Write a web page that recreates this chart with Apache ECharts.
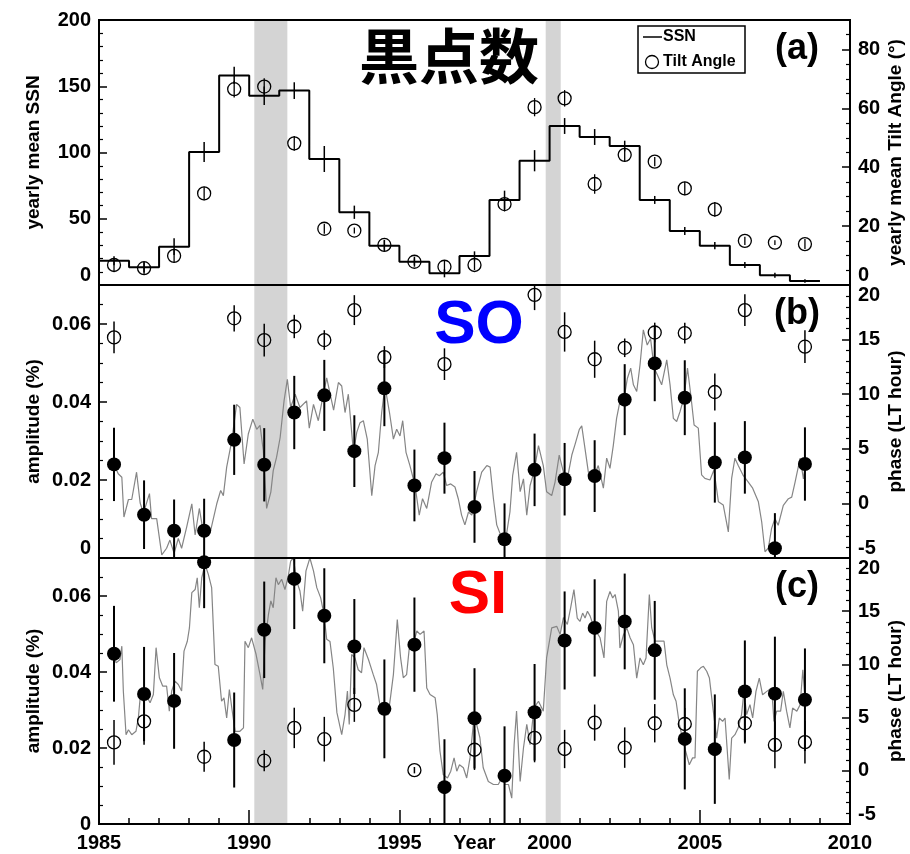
<!DOCTYPE html>
<html>
<head>
<meta charset="utf-8">
<script src="https://cdn.jsdelivr.net/npm/echarts@6.0.0/dist/echarts.min.js"></script>
<style>
  html, body { margin: 0; padding: 0; background: #fff; }
  #chart { width: 910px; height: 854px; }
</style>
</head>
<body>
<div id="chart"></div>
<script>
// yearly points sit at the middle of each year
var years = [1985, 1986, 1987, 1988, 1989, 1990, 1991, 1992, 1993, 1994, 1995, 1996,
  1997, 1998, 1999, 2000, 2001, 2002, 2003, 2004, 2005, 2006, 2007, 2008];

// (a) sunspot number and tilt angle
var ssn = [18.3, 13.4, 28.9, 100.4, 158.2, 142.9, 146.7, 95.1, 54.9, 29.7, 17.6, 8.8,
  21.9, 64.2, 93.8, 120.0, 111.7, 104.9, 64.2, 40.8, 29.7, 15.1, 7.3, 3.0];
var ssnErr = [3.4, 4.0, 6.3, 7.5, 6.5, 7.0, 6.3, 9.8, 5.0, 4.4, 3.8, 3.0,
  3.5, 7.0, 8.0, 6.0, 6.0, 4.0, 3.0, 3.0, 2.8, 2.3, 1.9, 1.3];
var tilt = [6.8, 5.7, 9.9, 31.1, 66.5, 67.4, 48.1, 19.1, 18.5, 13.6, 7.9, 6.2,
  6.8, 27.5, 60.4, 63.4, 34.3, 44.2, 41.9, 32.8, 25.7, 15.0, 14.4, 13.9];
var tiltErr = [2.3, 2.0, 2.3, 2.3, 2.8, 2.8, 2.5, 1.7, 1.0, 1.6, 1.1, 2.1,
  1.7, 2.5, 3.1, 2.8, 3.3, 2.3, 1.6, 2.3, 2.5, 1.4, 0.8, 1.7];

// (b) SO
var soAmp = [0.0240, 0.0111, 0.0070, 0.0070, 0.0303, 0.0239, 0.0373, 0.0417, 0.0274, 0.0435, 0.0186, 0.0256,
  0.0131, 0.0048, 0.0226, 0.0202, 0.0210, 0.0406, 0.0499, 0.0411, 0.0245, 0.0258, 0.0025, 0.0241];
var soAmpErr = [0.0094, 0.0088, 0.0080, 0.0082, 0.0090, 0.0094, 0.0094, 0.0091, 0.0092, 0.0097, 0.0092, 0.0091,
  0.0092, 0.0092, 0.0093, 0.0093, 0.0092, 0.0091, 0.0097, 0.0096, 0.0103, 0.0093, 0.0090, 0.0094];
var soPhase = [15.2, null, null, null, 16.95, 14.96, 16.2, 14.96, 17.7, 13.4, null, 12.75,
  null, null, 19.1, 15.7, 13.2, 14.25, 15.65, 15.6, 10.2, 17.7, null, 14.35];
var soPhaseErr = [1.45, null, null, null, 1.2, 1.5, 1.07, 0.9, 1.37, 1.0, null, 1.45,
  null, null, 1.4, 1.8, 1.7, 0.85, 0.9, 0.95, 1.7, 1.45, null, 1.5];

// (c) SI
var siAmp = [0.0448, 0.0342, 0.0324, 0.0689, 0.0221, 0.0511, 0.0645, 0.0548, 0.0467, 0.0303, 0.0472, 0.0097,
  0.0278, 0.0127, 0.0294, 0.0483, 0.0516, 0.0533, 0.0457, 0.0224, 0.0197, 0.0349, 0.0343, 0.0327];
var siAmpErr = [0.0126, 0.0124, 0.0126, 0.0121, 0.0125, 0.0127, 0.0132, 0.0125, 0.0125, 0.0130, 0.0124, 0.0126,
  0.0132, 0.0130, 0.0127, 0.0129, 0.0128, 0.0126, 0.0130, 0.0133, 0.0144, 0.0134, 0.0150, 0.0135];
var siPhase = [2.67, 4.65, null, 1.32, null, 0.95, 4.03, 2.97, 6.2, null, 0.06, null,
  1.98, null, 3.1, 2.05, 4.53, 2.18, 4.47, 4.4, null, 4.47, 2.43, 2.69];
var siPhaseErr = [2.1, 2.2, null, 1.4, null, 1.0, 1.9, 2.1, 1.6, null, 0.3, null,
  1.9, null, 2.3, 1.8, 1.7, 1.9, 1.8, 1.5, null, 1.9, 2.2, 2.0];

// running amplitude curves [year, amplitude]
var soLine = [
  [1985.50,0.0240],[1985.64,0.0216],[1985.76,0.0207],[1985.83,0.0105],[1985.98,0.0150],[1986.09,0.0150],
  [1986.25,0.0220],[1986.37,0.0141],[1986.48,0.0115],[1986.68,0.0165],[1986.75,0.0101],[1986.92,0.0101],
  [1987.09,0.0008],[1987.25,0.0025],[1987.36,0.0046],[1987.50,0.0012],[1987.64,0.0050],[1987.75,0.0025],
  [1987.92,0.0080],[1988.09,0.0139],[1988.20,0.0059],[1988.34,0.0127],[1988.47,0.0067],[1988.70,0.0065],
  [1988.92,0.0139],[1989.05,0.0173],[1989.14,0.0160],[1989.25,0.0233],[1989.42,0.0301],[1989.58,0.0394],
  [1989.69,0.0386],[1989.83,0.0241],[1989.97,0.0318],[1990.12,0.0356],[1990.25,0.0330],[1990.36,0.0340],
  [1990.47,0.0275],[1990.58,0.0127],[1990.72,0.0169],[1990.80,0.0224],[1990.91,0.0258],[1991.03,0.0309],
  [1991.16,0.0403],[1991.27,0.0458],[1991.38,0.0386],[1991.53,0.0420],[1991.69,0.0386],[1991.91,0.0403],
  [1992.00,0.0333],[1992.14,0.0394],[1992.30,0.0352],[1992.47,0.0420],[1992.58,0.0462],[1992.69,0.0422],
  [1992.81,0.0379],[1992.97,0.0450],[1993.08,0.0441],[1993.19,0.0373],[1993.30,0.0420],[1993.47,0.0271],
  [1993.58,0.0322],[1993.69,0.0347],[1993.80,0.0352],[1993.93,0.0305],[1994.08,0.0160],[1994.19,0.0237],
  [1994.30,0.0271],[1994.41,0.0373],[1994.52,0.0441],[1994.67,0.0373],[1994.80,0.0305],[1994.91,0.0330],
  [1995.02,0.0313],[1995.11,0.0352],[1995.22,0.0271],[1995.35,0.0237],[1995.52,0.0186],[1995.66,0.0110],
  [1995.77,0.0152],[1995.91,0.0127],[1996.07,0.0194],[1996.22,0.0216],[1996.33,0.0211],[1996.46,0.0220],
  [1996.57,0.0186],[1996.71,0.0190],[1996.85,0.0182],[1996.96,0.0152],[1997.07,0.0110],[1997.18,0.0085],
  [1997.30,0.0118],[1997.41,0.0110],[1997.57,0.0170],[1997.74,0.0220],[1997.91,0.0237],[1998.02,0.0233],
  [1998.13,0.0152],[1998.24,0.0085],[1998.35,0.0063],[1998.46,0.0050],[1998.57,0.0063],[1998.68,0.0118],
  [1998.77,0.0211],[1998.90,0.0271],[1999.02,0.0170],[1999.13,0.0203],[1999.24,0.0110],[1999.35,0.0186],
  [1999.48,0.0220],[1999.63,0.0288],[1999.79,0.0237],[1999.90,0.0170],[2000.07,0.0160],[2000.18,0.0194],
  [2000.32,0.0264],[2000.46,0.0220],[2000.59,0.0203],[2000.74,0.0264],[2000.85,0.0292],[2000.99,0.0330],
  [2001.07,0.0339],[2001.18,0.0280],[2001.29,0.0220],[2001.48,0.0211],[2001.62,0.0237],[2001.79,0.0179],
  [2001.90,0.0256],[2002.01,0.0230],[2002.12,0.0288],[2002.23,0.0358],[2002.34,0.0401],[2002.48,0.0410],
  [2002.59,0.0461],[2002.70,0.0487],[2002.79,0.0444],[2002.90,0.0427],[2003.01,0.0495],[2003.12,0.0585],
  [2003.25,0.0546],[2003.36,0.0563],[2003.48,0.0487],[2003.59,0.0469],[2003.73,0.0444],[2003.90,0.0508],
  [2004.01,0.0444],[2004.12,0.0358],[2004.23,0.0350],[2004.34,0.0375],[2004.47,0.0410],[2004.59,0.0487],
  [2004.70,0.0418],[2004.81,0.0341],[2004.95,0.0333],[2005.06,0.0213],[2005.17,0.0204],[2005.34,0.0200],
  [2005.47,0.0226],[2005.62,0.0144],[2005.78,0.0136],[2005.95,0.0067],[2006.06,0.0204],[2006.17,0.0256],
  [2006.28,0.0237],[2006.45,0.0211],[2006.62,0.0194],[2006.76,0.0179],[2006.95,0.0144],[2007.06,0.0093],
  [2007.17,0.0016],[2007.28,0.0025],[2007.39,0.0076],[2007.50,0.0101],[2007.61,0.0084],[2007.78,0.0135],
  [2007.95,0.0152],[2008.06,0.0156],[2008.17,0.0194],[2008.34,0.0256],[2008.45,0.0203],[2008.51,0.0237]
];
var siLine = [
  [1985.50,0.0446],[1985.57,0.0424],[1985.70,0.0433],[1985.76,0.0468],[1985.81,0.0350],[1985.90,0.0235],
  [1985.98,0.0248],[1986.09,0.0235],[1986.23,0.0244],[1986.31,0.0279],[1986.37,0.0332],[1986.48,0.0323],
  [1986.59,0.0336],[1986.70,0.0319],[1986.81,0.0341],[1986.90,0.0464],[1987.01,0.0385],[1987.12,0.0363],
  [1987.25,0.0363],[1987.34,0.0297],[1987.42,0.0350],[1987.53,0.0376],[1987.64,0.0367],[1987.75,0.0350],
  [1987.83,0.0455],[1987.94,0.0481],[1988.01,0.0516],[1988.09,0.0609],[1988.20,0.0617],[1988.27,0.0648],
  [1988.34,0.0569],[1988.42,0.0648],[1988.53,0.0683],[1988.64,0.0657],[1988.75,0.0622],[1988.86,0.0420],
  [1988.97,0.0415],[1989.08,0.0323],[1989.16,0.0332],[1989.25,0.0279],[1989.34,0.0354],[1989.42,0.0306],
  [1989.53,0.0244],[1989.69,0.0244],[1989.81,0.0253],[1989.86,0.0481],[1989.97,0.0464],[1990.08,0.0490],
  [1990.23,0.0446],[1990.36,0.0393],[1990.45,0.0354],[1990.53,0.0481],[1990.64,0.0551],[1990.72,0.0587],
  [1990.80,0.0569],[1990.89,0.0648],[1990.97,0.0630],[1991.08,0.0644],[1991.19,0.0617],[1991.30,0.0652],
  [1991.38,0.0692],[1991.47,0.0700],[1991.58,0.0639],[1991.69,0.0613],[1991.78,0.0560],[1991.89,0.0666],
  [1992.02,0.0700],[1992.14,0.0666],[1992.25,0.0622],[1992.38,0.0595],[1992.49,0.0551],[1992.58,0.0486],
  [1992.69,0.0480],[1992.80,0.0410],[1992.92,0.0293],[1993.08,0.0235],[1993.19,0.0288],[1993.27,0.0350],
  [1993.33,0.0262],[1993.41,0.0446],[1993.52,0.0437],[1993.63,0.0406],[1993.74,0.0398],[1993.82,0.0464],
  [1993.97,0.0433],[1994.13,0.0393],[1994.24,0.0367],[1994.35,0.0314],[1994.49,0.0288],[1994.63,0.0288],
  [1994.80,0.0393],[1994.93,0.0538],[1995.04,0.0437],[1995.13,0.0385],[1995.24,0.0393],[1995.33,0.0464],
  [1995.46,0.0472],[1995.58,0.0508],[1995.69,0.0499],[1995.82,0.0508],[1995.91,0.0358],[1996.02,0.0341],
  [1996.19,0.0332],[1996.26,0.0288],[1996.35,0.0192],[1996.46,0.0130],[1996.60,0.0121],[1996.71,0.0139],
  [1996.82,0.0174],[1996.91,0.0139],[1997.00,0.0156],[1997.13,0.0148],[1997.24,0.0121],[1997.35,0.0174],
  [1997.46,0.0262],[1997.57,0.0262],[1997.68,0.0227],[1997.79,0.0148],[1997.96,0.0112],[1998.13,0.0104],
  [1998.29,0.0104],[1998.41,0.0121],[1998.52,0.0104],[1998.63,0.0104],[1998.74,0.0068],[1998.82,0.0209],
  [1998.90,0.0297],[1999.02,0.0112],[1999.13,0.0200],[1999.24,0.0262],[1999.35,0.0209],[1999.48,0.0306],
  [1999.63,0.0323],[1999.79,0.0297],[1999.90,0.0437],[2000.07,0.0516],[2000.24,0.0520],[2000.35,0.0499],
  [2000.46,0.0543],[2000.59,0.0525],[2000.70,0.0569],[2000.81,0.0617],[2000.92,0.0542],[2001.01,0.0533],
  [2001.10,0.0555],[2001.18,0.0542],[2001.26,0.0560],[2001.35,0.0547],[2001.48,0.0516],[2001.68,0.0490],
  [2001.81,0.0437],[2001.90,0.0586],[2002.01,0.0612],[2002.10,0.0595],[2002.18,0.0604],[2002.29,0.0560],
  [2002.34,0.0463],[2002.46,0.0498],[2002.57,0.0516],[2002.68,0.0490],[2002.79,0.0472],[2002.90,0.0384],
  [2003.01,0.0437],[2003.12,0.0419],[2003.21,0.0437],[2003.32,0.0604],[2003.40,0.0516],[2003.51,0.0481],
  [2003.65,0.0481],[2003.81,0.0481],[2003.90,0.0419],[2004.01,0.0384],[2004.12,0.0340],[2004.21,0.0323],
  [2004.32,0.0262],[2004.47,0.0209],[2004.65,0.0156],[2004.76,0.0174],[2004.84,0.0174],[2004.92,0.0402],
  [2005.03,0.0411],[2005.12,0.0415],[2005.23,0.0402],[2005.32,0.0384],[2005.45,0.0297],[2005.56,0.0226],
  [2005.65,0.0279],[2005.76,0.0270],[2005.84,0.0279],[2005.98,0.0117],[2006.06,0.0226],[2006.17,0.0235],
  [2006.28,0.0253],[2006.39,0.0288],[2006.47,0.0349],[2006.56,0.0288],[2006.67,0.0314],[2006.76,0.0279],
  [2006.87,0.0349],[2006.98,0.0384],[2007.09,0.0340],[2007.23,0.0349],[2007.39,0.0358],[2007.47,0.0270],
  [2007.56,0.0297],[2007.69,0.0297],[2007.78,0.0349],[2007.89,0.0297],[2008.00,0.0253],[2008.09,0.0305],
  [2008.23,0.0297],[2008.34,0.0314],[2008.43,0.0406],[2008.50,0.0332]
];

// shaded periods (years)
var bands = [[1990.17, 1991.27], [1999.87, 2000.37]];

var FONT = "'Liberation Sans', Arial, sans-serif";

function points(vals, errs) {
  var out = [];
  for (var i = 0; i < years.length; i++) {
    if (vals[i] === null) continue;
    out.push([years[i] + 0.5, vals[i], errs ? errs[i] : 0]);
  }
  return out;
}

// vertical error bar, cut at the panel edges
function barRender(width) {
  return function (params, api) {
    var x = api.value(0), v = api.value(1), e = api.value(2);
    var hi = api.coord([x, v + e]);
    var lo = api.coord([x, v - e]);
    var cs = params.coordSys;
    return {
      type: 'line',
      shape: { x1: hi[0], y1: Math.max(hi[1], cs.y), x2: lo[0], y2: Math.min(lo[1], cs.y + cs.height) },
      style: { stroke: '#000', lineWidth: width }
    };
  };
}

var tickText = { fontSize: 20, fontWeight: 'bold', fontFamily: FONT, color: '#000' };
var richEdge = {
  up: Object.assign({ padding: [0, 0, 20, 0] }, tickText),
  down: Object.assign({ padding: [20, 0, 0, 0] }, tickText)
};
// nudge the labels that sit on a panel edge, as the original does
function edgeLabels(low, high) {
  return function (v) {
    if (low !== null && Math.abs(v - low) < 1e-9) return '{up|' + v + '}';
    if (high !== null && Math.abs(v - high) < 1e-9) return '{down|' + v + '}';
    return String(v);
  };
}

function yAxisOf(grid, pos, min, max, interval, minorSplit, name, fmt, gap) {
  return {
    type: 'value', gridIndex: grid, position: pos, min: min, max: max, interval: interval,
    name: name, nameLocation: 'middle', nameRotate: 90, nameGap: gap, nameMoveOverlap: false,
    nameTextStyle: { fontSize: 19, fontWeight: 'bold', fontFamily: FONT, color: '#000' },
    axisLine: { show: false },
    axisTick: { show: true, inside: true, length: 8, lineStyle: { color: '#000', width: 1.5 } },
    minorTick: { show: true, splitNumber: minorSplit, length: 4, lineStyle: { color: '#000', width: 1.2 } },
    axisLabel: Object.assign({ margin: 8, showMaxLabel: max % interval === 0, formatter: fmt, rich: richEdge }, tickText),
    splitLine: { show: false }
  };
}

function xAxisOf(grid, bottom) {
  return {
    type: 'value', gridIndex: grid, min: 1985, max: 2010, interval: 5,
    name: bottom ? 'Year' : '', nameLocation: 'middle', nameGap: 9, nameMoveOverlap: false,
    nameTextStyle: { fontSize: 20, fontWeight: 'bold', fontFamily: FONT, color: '#000', verticalAlign: 'top' },
    axisLine: { show: false },
    axisTick: { show: bottom, inside: true, length: 14, lineStyle: { color: '#000', width: 1.5 } },
    minorTick: { show: bottom, splitNumber: 5, length: 6, lineStyle: { color: '#000', width: 1.5 } },
    axisLabel: Object.assign({ show: bottom, margin: 9, formatter: function (v) { return String(v); } }, tickText),
    splitLine: { show: false }
  };
}

var bandArea = {
  silent: true,
  itemStyle: { color: '#d4d4d4' },
  data: bands.map(function (b) { return [{ xAxis: b[0] }, { xAxis: b[1] }]; })
};

function gridOf(top, height) {
  return { left: 99, right: 60, top: top, height: height, show: true, z: 6,
    containLabel: false, outerBoundsMode: 'none',
    backgroundColor: 'transparent', borderColor: '#000', borderWidth: 2 };
}

var ssnStep = years.map(function (y, i) { return [y, ssn[i]]; });
ssnStep.push([years[years.length - 1] + 1, ssn[ssn.length - 1]]);

var filledDot = { color: '#000', opacity: 1 };
var openDot = { color: 'rgba(0,0,0,0)', borderColor: '#000', borderWidth: 1.3, opacity: 1 };

function scatterOf(xi, yi, data, style, size) {
  return { type: 'scatter', xAxisIndex: xi, yAxisIndex: yi, data: data, symbolSize: size,
    itemStyle: style, silent: true, z: 4 };
}
function barsOf(xi, yi, data, width) {
  return { type: 'custom', xAxisIndex: xi, yAxisIndex: yi, data: data, renderItem: barRender(width),
    encode: { x: 0, y: 1 }, silent: true, z: 3 };
}

var option = {
  animation: false,
  backgroundColor: '#fff',
  grid: [gridOf(20, 265), gridOf(285, 273), gridOf(558, 266)],
  xAxis: [xAxisOf(0, false), xAxisOf(1, false), xAxisOf(2, true)],
  yAxis: [
    yAxisOf(0, 'left', 0, 200, 50, 5, 'yearly mean SSN', edgeLabels(0, null), 56),
    yAxisOf(0, 'right', 0, 90, 20, 4, 'yearly mean Tilt Angle (°)', edgeLabels(0, null), 36),
    yAxisOf(1, 'left', 0, 0.07, 0.02, 4, 'amplitude (%)', edgeLabels(0, null), 56),
    yAxisOf(1, 'right', -5, 20, 5, 5, 'phase (LT hour)', edgeLabels(-5, 20), 36),
    yAxisOf(2, 'left', 0, 0.07, 0.02, 4, 'amplitude (%)', edgeLabels(null, null), 56),
    yAxisOf(2, 'right', -5, 20, 5, 5, 'phase (LT hour)', edgeLabels(-5, 20), 36)
  ],
  series: [
    // (a)
    { type: 'line', xAxisIndex: 0, yAxisIndex: 0, data: ssnStep, step: 'end', showSymbol: false,
      lineStyle: { color: '#000', width: 2 }, silent: true, z: 3, markArea: bandArea },
    barsOf(0, 0, points(ssn, ssnErr), 1.5),
    barsOf(0, 1, points(tilt, tiltErr), 1.3),
    scatterOf(0, 1, points(tilt, tiltErr), openDot, 13),
    // (b)
    { type: 'line', xAxisIndex: 1, yAxisIndex: 2, data: soLine, showSymbol: false,
      lineStyle: { color: '#858585', width: 1.2 }, silent: true, z: 2, markArea: bandArea },
    barsOf(1, 2, points(soAmp, soAmpErr), 2),
    barsOf(1, 3, points(soPhase, soPhaseErr), 1.5),
    scatterOf(1, 2, points(soAmp, soAmpErr), filledDot, 14),
    scatterOf(1, 3, points(soPhase, soPhaseErr), openDot, 13),
    // (c)
    { type: 'line', xAxisIndex: 2, yAxisIndex: 4, data: siLine, showSymbol: false,
      lineStyle: { color: '#858585', width: 1.2 }, silent: true, z: 2, markArea: bandArea },
    barsOf(2, 4, points(siAmp, siAmpErr), 2),
    barsOf(2, 5, points(siPhase, siPhaseErr), 1.5),
    scatterOf(2, 4, points(siAmp, siAmpErr), filledDot, 14),
    scatterOf(2, 5, points(siPhase, siPhaseErr), openDot, 13)
  ],
  graphic: [
    { type: 'text', x: 449, y: 56, z: 10, style: { text: '黒点数', fill: '#000',
      font: "bold 60px 'Noto Sans CJK JP'", align: 'center', verticalAlign: 'middle' } },
    { type: 'text', x: 479, y: 326, z: 10, style: { text: 'SO', fill: '#0000ff',
      font: "bold 62px 'Liberation Sans', Arial", align: 'center', verticalAlign: 'middle' } },
    { type: 'text', x: 478, y: 596, z: 10, style: { text: 'SI', fill: '#ff0000',
      font: "bold 62px 'Liberation Sans', Arial", align: 'center', verticalAlign: 'middle' } },
    { type: 'text', x: 797, y: 49, z: 10, style: { text: '(a)', fill: '#000',
      font: "bold 36px 'Liberation Sans', Arial", align: 'center', verticalAlign: 'middle' } },
    { type: 'text', x: 797, y: 314, z: 10, style: { text: '(b)', fill: '#000',
      font: "bold 36px 'Liberation Sans', Arial", align: 'center', verticalAlign: 'middle' } },
    { type: 'text', x: 797, y: 587, z: 10, style: { text: '(c)', fill: '#000',
      font: "bold 36px 'Liberation Sans', Arial", align: 'center', verticalAlign: 'middle' } },
    // legend box
    { type: 'rect', z: 10, shape: { x: 638, y: 26, width: 107, height: 47 },
      style: { fill: '#fff', stroke: '#000', lineWidth: 1.5 } },
    { type: 'line', z: 11, shape: { x1: 643, y1: 37, x2: 662, y2: 37 },
      style: { stroke: '#000', lineWidth: 1.5 } },
    { type: 'text', x: 663, y: 37, z: 11, style: { text: 'SSN', fill: '#000',
      font: "bold 16px 'Liberation Sans', Arial", align: 'left', verticalAlign: 'middle' } },
    { type: 'circle', z: 11, shape: { cx: 652, cy: 62, r: 6.5 },
      style: { fill: 'none', stroke: '#000', lineWidth: 1.3 } },
    { type: 'text', x: 663, y: 62, z: 11, style: { text: 'Tilt Angle', fill: '#000',
      font: "bold 16px 'Liberation Sans', Arial", align: 'left', verticalAlign: 'middle' } }
  ]
};

var myChart = echarts.init(document.getElementById('chart'));
myChart.setOption(option);
</script>
</body>
</html>
